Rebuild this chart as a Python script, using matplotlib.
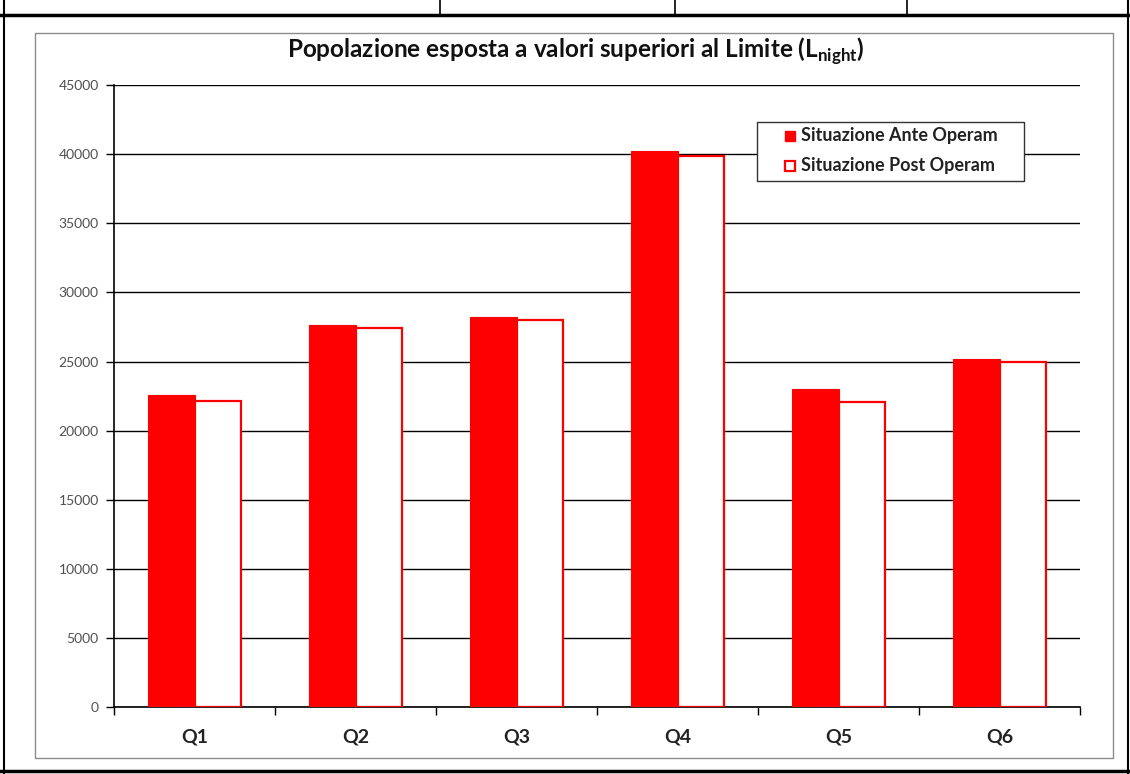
import matplotlib.pyplot as plt
from matplotlib.patches import Rectangle
from matplotlib.lines import Line2D
import numpy as np

categories = ["Q1", "Q2", "Q3", "Q4", "Q5", "Q6"]
ante_operam = [22560, 27640, 28250, 40230, 23020, 25190]
post_operam = [22170, 27410, 28010, 39900, 22060, 25000]
y_ticks = [0, 5000, 10000, 15000, 20000, 25000, 30000, 35000, 40000, 45000]

title_main = "Popolazione esposta a valori superiori al Limite (L$_{\\mathregular{night}}$)"
label_ante = "Situazione Ante Operam"
label_post = "Situazione Post Operam"

RED = "#ff0000"
W, H = 1130, 774
plt.rcParams["font.family"] = ["Lato", "DejaVu Sans"]

fig = plt.figure(figsize=(W / 100, H / 100), dpi=100)
fig.patch.set_facecolor("white")

def fx(v):
    return v / W

def fy(v):
    return 1 - v / H

def px(x0, y0, x1, y1, **kw):
    return Line2D([fx(x0), fx(x1)], [fy(y0), fy(y1)], transform=fig.transFigure, **kw)

def box(x0, y0, x1, y1, **kw):
    return Rectangle((fx(x0), fy(y1)), (x1 - x0) / W, (y1 - y0) / H,
                     transform=fig.transFigure, **kw)

# surrounding table lines
fig.add_artist(px(0, 15, W, 15, color="black", lw=2.5))
fig.add_artist(px(4, 0, 4, H, color="black", lw=1.5))
fig.add_artist(px(W - 2, 0, W - 2, H, color="black", lw=1.5))
fig.add_artist(px(0, 771, W, 771, color="black", lw=2.5))
for xv in (440, 675, 907):
    fig.add_artist(px(xv, 0, xv, 15, color="black", lw=1.2))

# chart frame
fig.add_artist(box(35, 33, 1113, 758, fill=False, edgecolor="#8c8c8c", lw=1.0))

ax = fig.add_axes([fx(114), fy(707.3), (1080 - 114) / W, (707.3 - 85) / H])
ax.set_facecolor("none")

x = np.arange(len(categories))
bw = 0.286
ax.bar(x - bw / 2, ante_operam, width=bw, color=RED, edgecolor=RED, lw=0.8, zorder=3)
ax.bar(x + bw / 2, post_operam, width=bw, color="white", edgecolor=RED, lw=1.6, zorder=3)

ax.set_xlim(-0.5, len(categories) - 0.5)
ax.set_ylim(0, 45000)
ax.set_yticks(y_ticks)
ax.set_yticklabels([str(v) for v in y_ticks], fontsize=10, color="#505050")
ax.yaxis.grid(True, color="black", lw=1.0, zorder=0)
ax.set_axisbelow(True)

ax.set_xticks(np.arange(-0.5, len(categories), 1.0), minor=False)
ax.set_xticklabels([])
ax.set_xticks(x, minor=True)
ax.set_xticklabels(categories, minor=True, fontsize=14, fontweight="bold", color="#222222")
ax.tick_params(axis="x", which="minor", length=0, pad=15)
ax.tick_params(axis="x", which="major", length=6, width=1.0, direction="out")
ax.tick_params(axis="y", length=6, width=1.0, direction="out", pad=5)

for s in ("top", "right"):
    ax.spines[s].set_visible(False)
for s in ("left", "bottom"):
    ax.spines[s].set_color("black")
    ax.spines[s].set_linewidth(1.2)

fig.text(fx(576), fy(51), title_main, ha="center", va="center",
         fontsize=17.5, fontweight="bold", color="#111111")

# legend box
fig.add_artist(box(757, 122, 1024, 181, facecolor="white", edgecolor="#333333", lw=1.0, zorder=5))
legend_rows = [
    (136, label_ante, dict(facecolor=RED, edgecolor=RED, lw=1.0)),
    (166, label_post, dict(facecolor="white", edgecolor=RED, lw=1.6)),
]
for yc, label, style in legend_rows:
    fig.add_artist(box(785, yc - 5, 795, yc + 5, zorder=6, **style))
    fig.text(fx(801), fy(yc), label, ha="left", va="center", fontsize=13,
             fontweight="bold", color="#222222", zorder=6)

fig.savefig("out.png", dpi=100, facecolor="white")
